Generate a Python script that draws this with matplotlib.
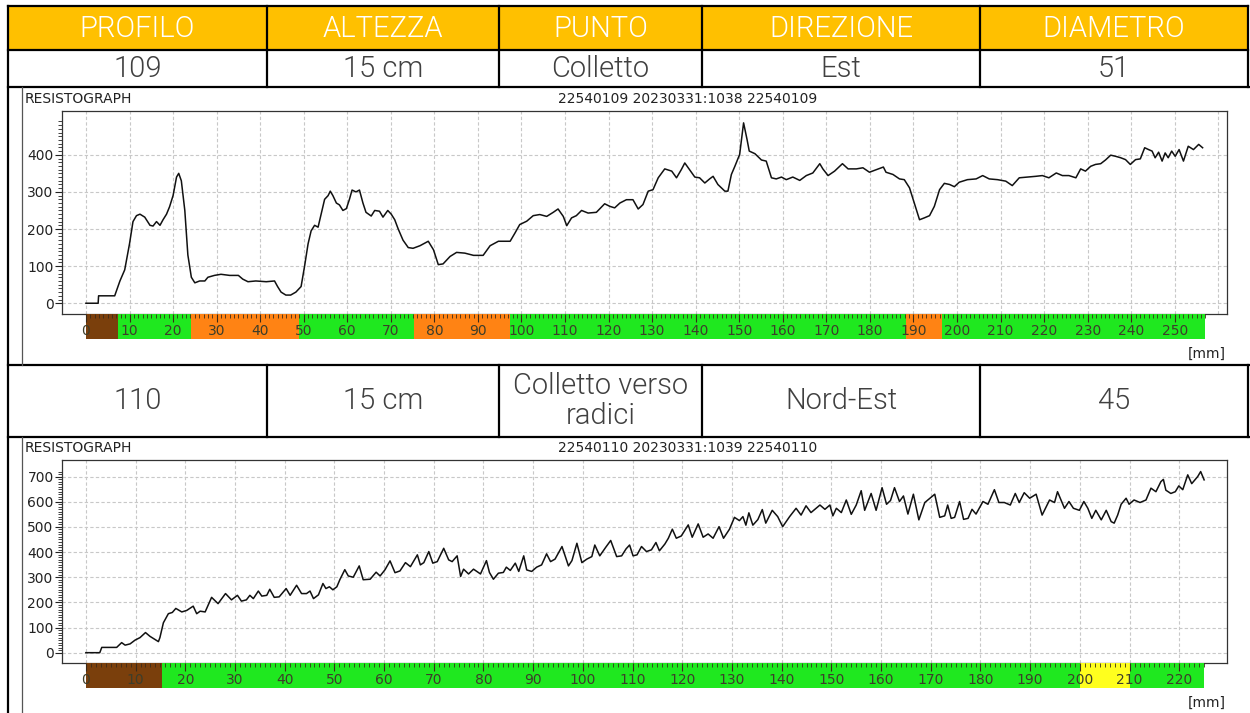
import matplotlib
matplotlib.use('Agg')
import matplotlib.pyplot as plt
from matplotlib import font_manager
from matplotlib.ticker import FixedLocator, NullFormatter

W, H = 1250, 713

# table contents
headers = ['PROFILO', 'ALTEZZA', 'PUNTO', 'DIREZIONE', 'DIAMETRO']
row_109 = ['109', '15 cm', 'Colletto', 'Est', '51']
row_110 = ['110', '15 cm', 'Colletto verso\nradici', 'Nord-Est', '45']
title_109 = '22540109 20230331:1038 22540109'
title_110 = '22540110 20230331:1039 22540110'

# profile 109: depth [mm] and resistance amplitude
x_109 = [0, 2.8, 2.9, 6.6, 7.8, 8.9, 10.0, 10.8, 11.6, 12.4, 13.5, 14.7, 15.4, 16.2, 17.0, 17.7,
         18.5, 19.2, 20.0, 20.8, 21.3, 21.9, 22.7, 23.4, 24.2, 25.0, 26.1, 27.3, 28.0, 29.5, 31.0,
         33.0, 35.0, 36.0, 37.2, 39.0, 41.4, 43.3, 44.0, 44.8, 45.9, 47.0, 48.2, 49.4, 50.2, 51.0,
         51.7, 52.5, 53.3, 54.0, 54.8, 55.6, 56.1, 56.7, 57.5, 58.2, 59.0, 59.8, 60.5, 61.1, 62.0,
         62.8, 63.6, 64.3, 65.5, 66.3, 67.4, 68.2, 69.3, 70.1, 70.9, 71.7, 72.8, 74.0, 75.1, 76.7,
         78.6, 79.8, 80.9, 82.0, 83.6, 85.1, 87.0, 89.0, 91.2, 92.8, 94.7, 95.8, 97.4, 98.5, 99.6,
         101.2, 102.7, 104.2, 105.8, 107.3, 108.4, 109.6, 110.4, 111.5, 112.6, 113.8, 115.3, 117.2,
         119.1, 120.3, 121.4, 122.6, 124.1, 125.6, 126.8, 127.9, 129.1, 130.2, 131.4, 132.9, 134.5,
         135.6, 136.7, 137.5, 138.6, 139.8, 140.9, 142.1, 143.2, 144.0, 145.1, 146.7, 147.4, 148.2,
         149.0, 150.1, 151.0, 151.8, 152.3, 153.6, 155.1, 156.2, 157.4, 158.5, 159.7, 160.8, 162.3,
         163.9, 165.4, 166.9, 168.5, 169.2, 170.4, 171.9, 173.7, 175.0, 176.9, 178.4, 179.9, 181.5,
         183.1, 183.7, 185.3, 186.8, 187.9, 189.1, 190.2, 191.4, 192.5, 193.7, 194.8, 196.0, 197.1,
         198.3, 199.4, 200.5, 202.4, 204.4, 205.9, 207.4, 209.3, 211.2, 212.7, 214.3, 216.2, 218.1,
         219.6, 221.1, 222.8, 224.2, 225.7, 227.3, 228.4, 229.5, 230.7, 231.8, 233.0, 234.1, 235.3,
         236.4, 237.6, 238.7, 239.8, 241.0, 242.1, 243.1, 244.0, 244.8, 245.5, 246.3, 247.1, 247.8,
         248.5, 249.3, 250.1, 251.0, 252.0, 253.1, 254.3, 255.5, 256.4]
y_109 = [0, 0, 20, 20, 60, 90, 160, 220, 236, 240, 232, 210, 208, 220, 210, 225,
         240, 260, 290, 340, 350, 330, 250, 130, 70, 55, 60, 60, 70, 75, 78,
         75, 75, 65, 58, 60, 58, 60, 45, 30, 22, 22, 30, 45, 100, 160,
         195, 210, 205, 240, 280, 290, 302, 290, 270, 265, 250, 255, 280, 305, 300,
         305, 270, 245, 235, 250, 248, 232, 250, 240, 225, 200, 170, 150, 148, 155,
         167, 144, 104, 106, 126, 137, 135, 129, 129, 155, 167, 167, 167, 189, 212,
         221, 236, 239, 234, 245, 254, 234, 209, 230, 236, 250, 243, 245,
         268, 261, 257, 270, 279, 279, 254, 266, 302, 306, 338, 362, 356,
         338, 360, 378, 360, 340, 338, 324, 335, 342, 320, 302, 302, 347,
         369, 401, 486, 441, 410, 403, 386, 383, 338, 335, 340, 333, 340,
         331, 344, 351, 376, 362, 344, 356, 376, 362, 362, 365, 353, 360,
         367, 353, 347, 335, 333, 311, 270, 225, 230, 236, 261, 306, 323,
         320, 314, 326, 333, 335, 344, 335, 333, 329, 317, 338, 340, 342,
         344, 338, 351, 344, 344, 338, 362, 356, 369, 374, 376, 386, 399,
         396, 392, 387, 374, 387, 389, 419, 414, 410, 392, 407, 383, 405,
         392, 410, 396, 414, 383, 423, 414, 428, 419]

# profile 110
x_110 = [0, 2.8, 3.2, 6.2, 7.2, 7.9, 8.9, 9.9, 10.9, 12.0, 12.9, 13.7, 14.6, 14.9, 15.6, 16.6,
         17.4, 18.1, 19.3, 20.3, 21.6, 22.3, 23.0, 24.0, 25.3, 26.6, 28.1, 29.3, 30.5, 31.3, 32.3,
         33.0, 33.7, 34.7, 35.4, 36.4, 37.0, 37.9, 38.9, 40.3, 41.1, 42.4, 43.4, 44.4, 45.1, 45.8,
         46.8, 47.7, 48.3, 49.0, 49.7, 50.5, 51.1, 52.1, 52.8, 53.8, 55.0, 55.8, 57.2, 58.4, 59.2,
         60.2, 61.2, 62.2, 63.2, 64.3, 65.3, 66.7, 67.3, 68.0, 69.0, 69.8, 70.7, 72.0, 73.0, 73.7,
         74.7, 75.4, 76.0, 77.0, 78.0, 79.4, 80.6, 81.2, 82.0, 83.0, 84.0, 84.6, 85.4, 86.4, 87.1,
         88.1, 88.7, 89.7, 90.7, 91.7, 92.7, 93.5, 94.4, 95.8, 97.1, 97.8, 98.8, 99.8, 100.8, 101.8,
         102.4, 103.4, 104.6, 105.6, 106.8, 107.8, 108.7, 109.4, 110.1, 110.9, 111.8, 112.8, 113.8,
         114.7, 115.4, 116.5, 117.2, 118.0, 118.8, 119.8, 121.2, 122.0, 123.2, 124.2, 125.2, 126.2,
         127.4, 128.3, 129.5, 130.5, 131.5, 132.2, 132.8, 133.4, 134.2, 135.2, 136.1, 136.8, 138.1,
         139.2, 140.2, 141.6, 142.9, 143.9, 144.9, 145.9, 147.7, 148.7, 149.7, 150.3, 151.0, 152.0,
         153.0, 154.0, 155.0, 156.0, 156.7, 158.0, 159.0, 160.2, 161.1, 161.9, 162.7, 163.7, 164.5,
         165.4, 166.5, 167.6, 168.8, 170.8, 171.8, 172.8, 173.4, 174.1, 174.8, 175.8, 176.6, 177.5,
         178.3, 179.1, 180.5, 181.5, 182.8, 183.7, 184.8, 186.0, 187.0, 187.8, 188.8, 189.9, 191.2,
         192.4, 193.9, 194.9, 195.5, 196.9, 197.8, 198.7, 199.9, 200.8, 201.6, 202.4, 203.2, 204.3,
         205.3, 206.3, 206.9, 207.6, 208.3, 209.3, 209.9, 210.9, 212.1, 213.3, 214.3, 215.3, 216.3,
         216.8, 217.3, 218.3, 219.2, 219.9, 220.7, 221.7, 222.5, 223.7, 224.3, 225.0]
y_110 = [0, 0, 21, 21, 40, 30, 35, 50, 60, 80, 65, 55, 44, 60, 119, 155,
         160, 176, 162, 168, 185, 155, 165, 162, 220, 195, 235, 210, 228, 205, 210,
         228, 215, 245, 225, 228, 252, 220, 222, 255, 228, 268, 235, 235, 245, 215,
         230, 275, 255, 262, 250, 262, 290, 330, 305, 300, 345, 290, 292, 320, 305,
         330, 365, 318, 325, 358, 342, 389, 349, 358, 402, 356, 362, 415, 369, 362,
         385, 303, 332, 313, 332, 313, 366, 319, 292, 316, 319, 340, 327, 356, 323,
         385, 329, 323, 340, 349, 393, 362, 372, 422, 345, 366, 435, 358, 372, 382,
         428, 385, 419, 446, 382, 385, 413, 428, 385, 389, 422, 402, 409,
         438, 405, 432, 455, 491, 455, 464, 508, 459, 512, 459, 472, 455,
         501, 455, 491, 538, 525, 541, 507, 556, 507, 529, 569, 515, 566,
         541, 501, 541, 574, 547, 584, 557, 587, 570, 587, 544, 574, 557,
         607, 550, 587, 644, 566, 633, 566, 656, 590, 605, 656, 601, 623,
         551, 630, 528, 597, 630, 538, 544, 587, 534, 538, 601, 530, 534,
         570, 551, 601, 590, 648, 597, 597, 587, 633, 597, 636, 614, 630,
         547, 607, 597, 640, 574, 601, 574, 566, 601, 574, 534, 566, 528,
         566, 521, 515, 547, 590, 614, 590, 607, 597, 607, 654, 640, 680,
         689, 646, 633, 640, 663, 648, 707, 672, 700, 720, 687]

# coloured density ruler under each trace [mm]
ruler_109_edges = [0, 7.3, 24.2, 49, 75.3, 97.4, 188.3, 196.5, 257]
ruler_109_class = ['brown', 'green', 'orange', 'green', 'orange', 'green', 'orange', 'green']
ruler_110_edges = [0, 15.4, 200, 210, 225]
ruler_110_class = ['brown', 'green', 'yellow', 'green']

class_colors = {'brown': '#7a3f0c', 'green': '#1fe81f', 'orange': '#ff8314', 'yellow': '#ffff1e'}


def box(x0, y0, x1, y1):
    return [x0 / W, 1 - y1 / H, (x1 - x0) / W, (y1 - y0) / H]


def light_font():
    # look for a light (weight ~300) face of one of the installed sans families
    for fam in ['Roboto', 'Open Sans', 'Lato', 'Inter', 'Noto Sans']:
        for f in font_manager.fontManager.ttflist:
            w = f.weight
            if isinstance(w, str):
                w = font_manager.weight_dict.get(w, 400)
            if f.name == fam and 250 <= w <= 350 and f.style == 'normal':
                return font_manager.FontProperties(fname=f.fname, size=21)
    return font_manager.FontProperties(family='Lato', size=21)


cell_prop = light_font()

fig = plt.figure(figsize=(W / 100, H / 100), dpi=100)
fig.patch.set_facecolor('white')

# background layer in pixel units for the table
bg = fig.add_axes([0, 0, 1, 1])
bg.set_xlim(0, W)
bg.set_ylim(H, 0)
bg.axis('off')

cols = [8, 267, 499, 702, 980, 1248]
bg.add_patch(plt.Rectangle((8, 6), 1240, 44, color='#ffc000', lw=0))
lw_tab = 1.6
for y in [6, 50]:
    bg.plot([8, 1248], [y, y], color='black', lw=lw_tab)
for y in [87, 365, 437]:
    bg.plot([8, W], [y, y], color='black', lw=lw_tab)
bg.plot([8, 8], [6, H], color='black', lw=lw_tab)
for x in cols[1:]:
    bg.plot([x, x], [6, 87], color='black', lw=lw_tab)
    bg.plot([x, x], [365, 437], color='black', lw=lw_tab)
bg.plot([22, 22], [87, 365], color='#555555', lw=0.9)
bg.plot([22, 22], [437, H], color='#555555', lw=0.9)

for i in range(5):
    cx = (cols[i] + cols[i + 1]) / 2
    bg.text(cx, 29, headers[i], color='white', fontproperties=cell_prop, ha='center', va='center')
    bg.text(cx, 69, row_109[i], color='#404040', fontproperties=cell_prop, ha='center', va='center')
    bg.text(cx, 401, row_110[i], color='#404040', fontproperties=cell_prop, ha='center', va='center',
            linespacing=1.1)


def draw_chart(top, xs, ys, xlim, ylim, yticks, ymax_minor, edges, classes, title):
    # plot frame
    ax = fig.add_axes(box(62, top, 1227, top + 203))
    ax.plot(xs, ys, color='#111111', lw=1.1)
    ax.set_xlim(xlim)
    ax.set_ylim(ylim)
    ax.xaxis.set_major_locator(FixedLocator(list(range(0, int(xlim[1]) + 1, 10))))
    ax.xaxis.set_major_formatter(NullFormatter())
    ax.tick_params(axis='x', length=0)
    ax.yaxis.set_major_locator(FixedLocator(yticks))
    ax.yaxis.set_minor_locator(FixedLocator(list(range(0, ymax_minor + 1, 10))))
    ax.tick_params(axis='y', which='major', length=5, width=0.8, labelsize=10, pad=1, colors='#222222')
    ax.tick_params(axis='y', which='minor', length=3, width=0.6, colors='#222222')
    ax.grid(True, which='major', color='#c8c8c8', lw=0.8, ls=(0, (3, 2)))
    for s in ax.spines.values():
        s.set_color('#333333')
        s.set_linewidth(0.9)

    # ruler bar
    rl = fig.add_axes(box(62, top + 203, 1227, top + 228))
    rl.set_xlim(xlim)
    rl.set_ylim(0, 1)
    for a, b, c in zip(edges[:-1], edges[1:], classes):
        rl.barh(0.5, b - a, left=a, height=1, color=class_colors[c], lw=0)
    end = edges[-1]
    rl.xaxis.set_major_locator(FixedLocator(list(range(0, int(end) + 1, 10))))
    rl.xaxis.set_minor_locator(FixedLocator(list(range(0, int(end) + 1))))
    rl.xaxis.set_major_formatter(NullFormatter())
    rl.tick_params(axis='x', which='both', direction='in', top=True, bottom=False,
                   colors='#3a2a1a')
    rl.tick_params(axis='x', which='major', length=6, width=0.8)
    rl.tick_params(axis='x', which='minor', length=3, width=0.6)
    rl.set_yticks([])
    for s in rl.spines.values():
        s.set_visible(False)
    rl.patch.set_alpha(0)
    for v in range(0, int(end) + 1, 10):
        rl.text(v, 0.33, str(v), ha='center', va='center', fontsize=10, color='#3d3d2a')

    bg.text(25, top - 12, 'RESISTOGRAPH', fontsize=10, ha='left', va='center', color='#222222')
    bg.text(688, top - 12, title, fontsize=10, ha='center', va='center', color='#222222')
    bg.text(1226, top + 243, '[mm]', fontsize=10, ha='right', va='center', color='#222222')


draw_chart(111, x_109, y_109, (-5.5, 262), (-29, 518), [0, 100, 200, 300, 400], 490,
           ruler_109_edges, ruler_109_class, title_109)
draw_chart(460, x_110, y_110, (-4.8, 229.6), (-41, 766), [0, 100, 200, 300, 400, 500, 600, 700], 720,
           ruler_110_edges, ruler_110_class, title_110)

fig.savefig('out.png', dpi=100)
